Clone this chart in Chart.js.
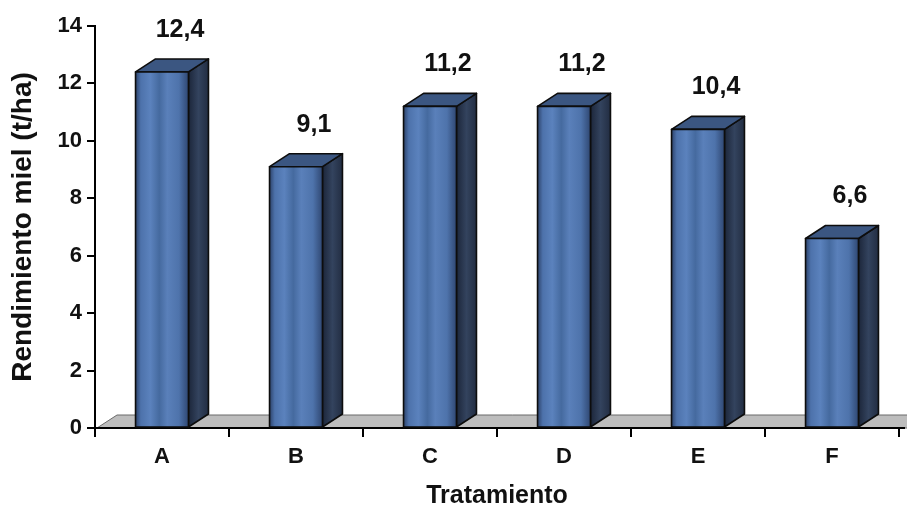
<!DOCTYPE html>
<html>
<head>
<meta charset="utf-8">
<script src="https://cdn.jsdelivr.net/npm/chart.js@4/dist/chart.umd.min.js"></script>
<style>
  html, body { margin: 0; padding: 0; background: #ffffff; }
  #wrap { width: 907px; height: 507px; }
</style>
</head>
<body>
<div id="wrap"><canvas id="chart" width="907" height="507"></canvas></div>
<script>
// Honey yield per treatment
const categories = ['A', 'B', 'C', 'D', 'E', 'F'];
const rendimiento = [12.4, 9.1, 11.2, 11.2, 10.4, 6.6];
const valueLabels = ['12,4', '9,1', '11,2', '11,2', '10,4', '6,6'];
const yTitle = 'Rendimiento miel (t/ha)';
const xTitle = 'Tratamiento';

const FONT = "'Liberation Sans', Arial, sans-serif";
const DEPTH_X = 20;   // oblique depth of the 3-D boxes
const DEPTH_Y = -13;

function frontGradient(ctx, l, r) {
  const g = ctx.createLinearGradient(l, 0, r, 0);
  g.addColorStop(0.00, '#2c426a');
  g.addColorStop(0.10, '#4d72ab');
  g.addColorStop(0.28, '#5b82bd');
  g.addColorStop(0.45, '#456a9f');
  g.addColorStop(0.60, '#5a80ba');
  g.addColorStop(0.82, '#4e73ab');
  g.addColorStop(1.00, '#2f4772');
  return g;
}

function sideGradient(ctx, l, r) {
  const g = ctx.createLinearGradient(l, 0, r, 0);
  g.addColorStop(0.0, '#1c263a');
  g.addColorStop(0.5, '#33435e');
  g.addColorStop(1.0, '#222d42');
  return g;
}

const box3d = {
  id: 'box3d',
  beforeDatasetsDraw(chart) {
    const {ctx, chartArea} = chart;
    const y0 = chart.scales.y.getPixelForValue(0);
    // floor slab
    ctx.save();
    ctx.beginPath();
    ctx.moveTo(chartArea.left + 2, y0);
    ctx.lineTo(chartArea.left + 2 + DEPTH_X, y0 + DEPTH_Y);
    ctx.lineTo(chart.width + 30, y0 + DEPTH_Y);
    ctx.lineTo(chart.width + 30, y0);
    ctx.closePath();
    ctx.fillStyle = '#bdbdbd';
    ctx.fill();
    ctx.strokeStyle = '#6a6a6a';
    ctx.lineWidth = 1;
    ctx.stroke();
    // front edge of the floor continues past the last category
    ctx.beginPath();
    ctx.moveTo(chartArea.left, y0);
    ctx.lineTo(chart.width - 2, y0);
    ctx.strokeStyle = '#000';
    ctx.lineWidth = 2;
    ctx.stroke();
    ctx.restore();
  },
  afterDatasetsDraw(chart) {
    const {ctx} = chart;
    const meta = chart.getDatasetMeta(0);
    ctx.save();
    ctx.lineJoin = 'round';
    meta.data.forEach((bar, i) => {
      const {x, y, base, width} = bar.getProps(['x', 'y', 'base', 'width'], true);
      const l = x - width / 2, r = x + width / 2;
      ctx.strokeStyle = '#0d0d0d';
      ctx.lineWidth = 1.6;
      // side face
      ctx.beginPath();
      ctx.moveTo(r, base);
      ctx.lineTo(r, y);
      ctx.lineTo(r + DEPTH_X, y + DEPTH_Y);
      ctx.lineTo(r + DEPTH_X, base + DEPTH_Y);
      ctx.closePath();
      ctx.fillStyle = sideGradient(ctx, r, r + DEPTH_X);
      ctx.fill();
      ctx.stroke();
      // top face
      ctx.beginPath();
      ctx.moveTo(l, y);
      ctx.lineTo(l + DEPTH_X, y + DEPTH_Y);
      ctx.lineTo(r + DEPTH_X, y + DEPTH_Y);
      ctx.lineTo(r, y);
      ctx.closePath();
      ctx.fillStyle = '#3b5681';
      ctx.fill();
      ctx.stroke();
      // front face
      ctx.beginPath();
      ctx.rect(l, y, width, base - y);
      ctx.fillStyle = frontGradient(ctx, l, r);
      ctx.fill();
      ctx.stroke();
      // value label
      ctx.fillStyle = '#111';
      ctx.font = 'bold 25px ' + FONT;
      ctx.textAlign = 'center';
      ctx.textBaseline = 'middle';
      ctx.fillText(valueLabels[i], x + 18, y - 42);
    });
    ctx.restore();
  }
};

new Chart(document.getElementById('chart'), {
  type: 'bar',
  data: {
    labels: categories,
    datasets: [{
      data: rendimiento,
      backgroundColor: 'rgba(0,0,0,0)',
      borderWidth: 0,
      categoryPercentage: 1,
      barPercentage: 0.395
    }]
  },
  options: {
    responsive: false,
    animation: false,
    events: [],
    layout: { padding: { left: 0, right: 8, top: 26, bottom: 0 } },
    plugins: { legend: { display: false }, tooltip: { enabled: false } },
    scales: {
      x: {
        grid: { drawOnChartArea: false, drawTicks: true, tickLength: 9, color: '#000', lineWidth: 2, offset: true },
        border: { display: true, color: '#000', width: 2 },
        ticks: { color: '#111', font: { family: FONT, size: 22, weight: 'bold' }, padding: 7 },
        title: { display: true, text: xTitle, color: '#111', font: { family: FONT, size: 25, weight: 'bold', lineHeight: 1 }, padding: { top: 0, bottom: -2 } },
        afterFit(scale) { scale.height = 79; }
      },
      y: {
        min: 0,
        max: 14,
        grid: { drawOnChartArea: false, drawTicks: true, tickLength: 8, color: '#000', lineWidth: 2 },
        border: { display: true, color: '#000', width: 2 },
        ticks: { stepSize: 2, color: '#111', font: { family: FONT, size: 22, weight: 'bold' }, padding: 5 },
        title: { display: true, text: yTitle, color: '#111', font: { family: FONT, size: 28, weight: 'bold', lineHeight: 1 }, padding: { top: 9, bottom: 0 } },
        afterFit(scale) { scale.width = 95; }
      }
    }
  },
  plugins: [box3d]
});
</script>
</body>
</html>
